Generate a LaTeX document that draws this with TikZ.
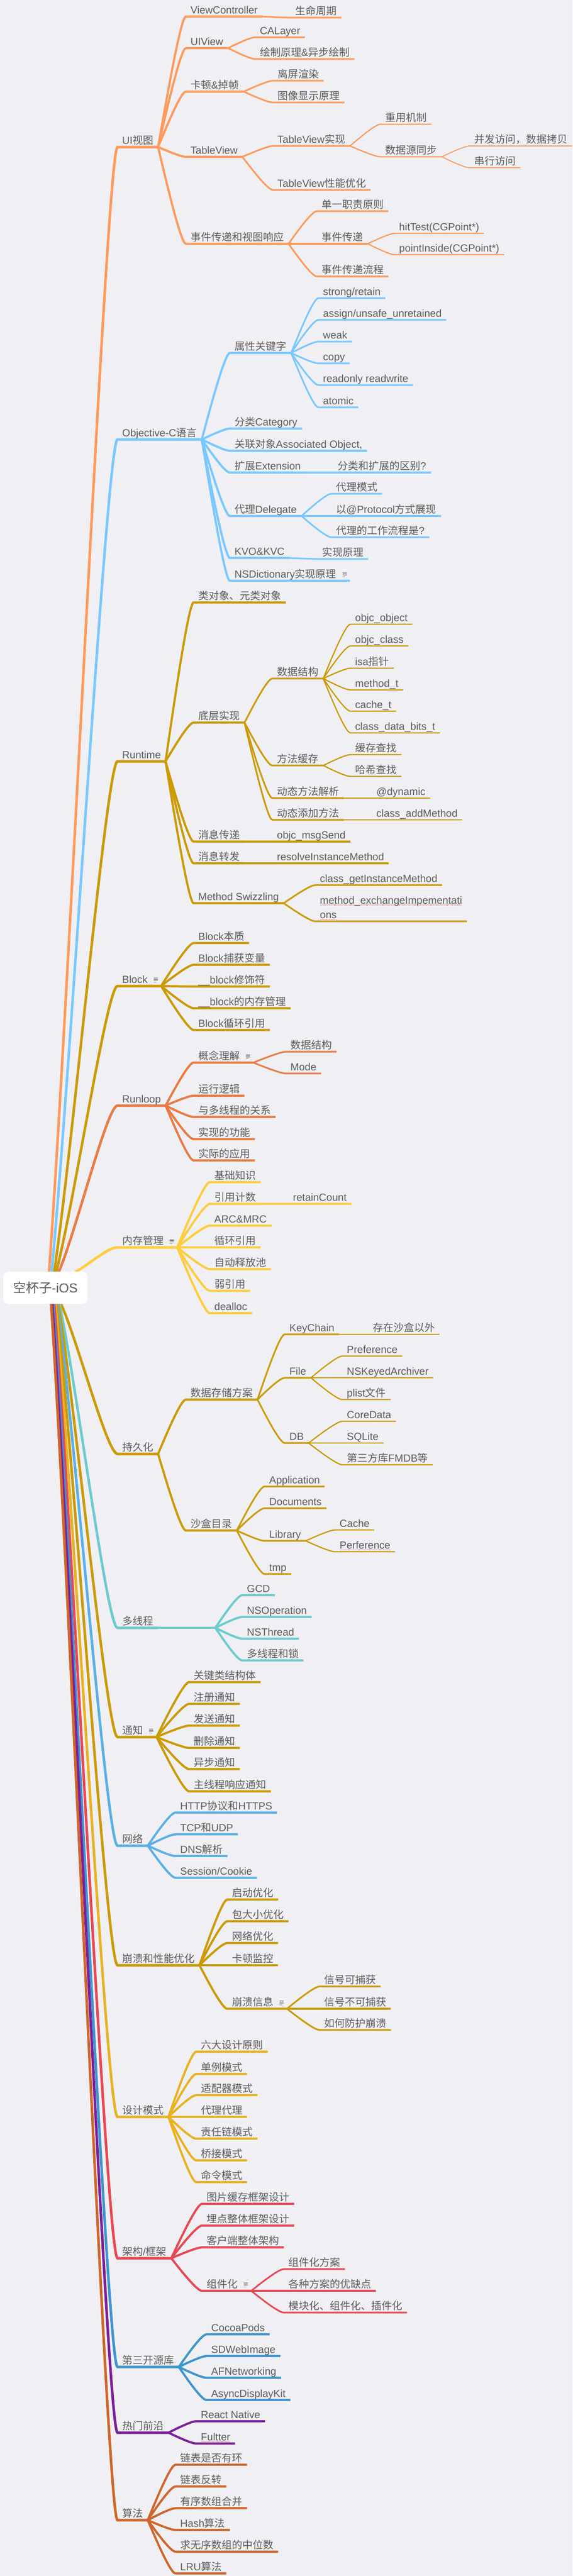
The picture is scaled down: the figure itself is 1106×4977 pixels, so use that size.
\documentclass[tikz,border=0pt]{standalone}
\usepackage{fontspec}
\setmainfont{Liberation Sans}
\newfontfamily\latf{Liberation Sans}
\newfontfamily\cjkf{Noto Sans CJK SC}
\usetikzlibrary{calc}
\XeTeXinterchartokenstate=1
\newXeTeXintercharclass\mycjk
\newcount\cnum
\cnum=33 \loop \XeTeXcharclass\cnum=0 \ifnum\cnum<126 \advance\cnum by 1 \repeat
\cnum="3000 \loop \XeTeXcharclass\cnum=\mycjk \ifnum\cnum<"303F \advance\cnum by 1 \repeat
\cnum="4E00 \loop \XeTeXcharclass\cnum=\mycjk \ifnum\cnum<"9FFF \advance\cnum by 1 \repeat
\cnum="FF00 \loop \XeTeXcharclass\cnum=\mycjk \ifnum\cnum<"FFEF \advance\cnum by 1 \repeat
\XeTeXinterchartoks 0 \mycjk = {\cjkf}
\XeTeXinterchartoks 4095 \mycjk = {\cjkf}
\XeTeXinterchartoks \mycjk 0 = {\latf}
\XeTeXinterchartoks \mycjk 4095 = {\latf}

\definecolor{bgc}{RGB}{240,240,244}
\definecolor{txt}{RGB}{92,92,92}
\definecolor{notec}{RGB}{140,140,140}
\definecolor{sqc}{RGB}{230,80,80}
\definecolor{cUI}{RGB}{255,154,92}
\definecolor{cOC}{RGB}{122,200,255}
\definecolor{cGD}{RGB}{204,154,6}
\definecolor{cRL}{RGB}{233,124,69}
\definecolor{cMM}{RGB}{255,204,61}
\definecolor{cMT}{RGB}{108,203,207}
\definecolor{cNW}{RGB}{91,176,230}
\definecolor{cDP}{RGB}{233,178,35}
\definecolor{cAR}{RGB}{232,72,85}
\definecolor{cLB}{RGB}{63,149,207}
\definecolor{cHT}{RGB}{125,31,154}
\definecolor{cAL}{RGB}{208,102,43}

\newcommand{\noteicon}{\hspace{12pt}\textcolor{notec}{\rlap{\raisebox{10pt}{\rule{8pt}{1.3pt}}}\rlap{\raisebox{7.3pt}{\rule{8pt}{1.3pt}}}\rlap{\raisebox{4.6pt}{\rule{8pt}{1.3pt}}}\raisebox{1.9pt}{\rule{5pt}{1.3pt}}}\hspace{10pt}}
\newcommand{\sq}[1]{\setbox0=\hbox{#1}\rlap{\copy0}\raisebox{-2.5pt}{\textcolor{sqc}{\hbox to \wd0{\xleaders\hbox to 2.2pt{\hss\rule{1.3pt}{1.3pt}\hss}\hfill}}}}
\newcommand{\conn}[3]{\draw[#1] let \p1=(#2), \p2=(#3.south west), \p3=(#3.south east) in (\p1) .. controls ({\x1+0.25*(\x2-\x1)},{\y1+0.3*(\y2-\y1)}) and ({\x2-10pt},\y2) .. (\p2) -- (\p3);}
\newcommand{\rconn}[3]{\draw[#1] let \p1=(#2), \p2=(#3.south west), \p3=(#3.south east) in (\p1) .. controls ({\x1+0.3*(\x2-\x1)},{\y1+0.25*(\y2-\y1)}) and ({\x2-20pt},\y2) .. (\p2) -- (\p3);}

\pgfdeclarelayer{bg}
\pgfsetlayers{bg,main}

\tikzset{
  topic/.style={anchor=south west, inner xsep=9pt, inner ysep=5pt, text depth=0pt, text height=15pt, text=txt, font=\fontsize{20}{24}\selectfont},
  L1/.style={line width=5pt},
  L2/.style={line width=4.2pt},
  L3/.style={line width=3.2pt},
  L4/.style={line width=2.4pt},
  L5/.style={line width=1.8pt},
  rootbox/.style={fill=white, rounded corners=10pt, minimum width=163pt, minimum height=62pt, inner sep=0pt, text=txt, font=\fontsize{25}{30}\selectfont}
}

\begin{document}
\begin{tikzpicture}[x=1pt, y=-1pt, line cap=round, line join=round]
\useasboundingbox (0,0) rectangle (1106,4977);

\node[rootbox] (root) at (87.5,2488) {空杯子-iOS};

% ---------- level 1
\node[topic] (ui) at (227,284) {UI视图};
\node[topic] (oc) at (227,849) {Objective-C语言};
\node[topic] (rt) at (227,1471) {Runtime};
\node[topic] (blk) at (227,1905) {Block\noteicon};
\node[topic] (rl) at (227,2136) {Runloop};
\node[topic] (mm) at (227,2410) {内存管理\noteicon};
\node[topic] (pers) at (227,2809) {持久化};
\node[topic] (mt) at (227,3145) {多线程};
\node[topic] (nt) at (227,3356) {通知\noteicon};
\node[topic] (net) at (227,3566) {网络};
\node[topic] (crash) at (227,3797) {崩溃和性能优化};
\node[topic] (dp) at (227,4090) {设计模式};
\node[topic] (arch) at (227,4363) {架构/框架};
\node[topic] (lib) at (227,4573) {第三开源库};
\node[topic] (hot) at (227,4700) {热门前沿};
\node[topic] (algo) at (227,4869) {算法};

% ---------- UI
\node[topic] (vc) at (359,32) {ViewController};
\node[topic] (smzq) at (561,34) {生命周期};
\node[topic] (uiv) at (359,93) {UIView};
\node[topic] (calayer) at (493,72) {CALayer};
\node[topic] (hzyl) at (493,114) {绘制原理\&异步绘制};
\node[topic] (kd) at (359,177) {卡顿\&掉帧};
\node[topic] (lpxr) at (527,156) {离屏渲染};
\node[topic] (txxs) at (527,198) {图像显示原理};
\node[topic] (tv) at (359,303) {TableView};
\node[topic] (tvsx) at (527,282) {TableView实现};
\node[topic] (cyjz) at (735,240) {重用机制};
\node[topic] (sjy) at (735,303) {数据源同步};
\node[topic] (bf) at (907,282) {并发访问，数据拷贝};
\node[topic] (cxfw) at (907,324) {串行访问};
\node[topic] (tvyh) at (527,367) {TableView性能优化};
\node[topic] (ev) at (359,471) {事件传递和视图响应};
\node[topic] (dyzz) at (612,408) {单一职责原则};
\node[topic] (sjcd) at (612,471) {事件传递};
\node[topic] (hit) at (762,451) {hitTest(CGPoint*)};
\node[topic] (pin) at (762,492) {pointInside(CGPoint*)};
\node[topic] (sjlc) at (612,534) {事件传递流程};

% ---------- OC
\node[topic] (sxgjz) at (444,682) {属性关键字};
\node[topic] (strong) at (615,576) {strong/retain};
\node[topic] (assign) at (615,618) {assign/unsafe\_unretained};
\node[topic] (weak) at (615,660) {weak};
\node[topic] (copy) at (615,702) {copy};
\node[topic] (rdonly) at (615,744) {readonly readwrite};
\node[topic] (atomic) at (615,787) {atomic};
\node[topic] (fl) at (444,828) {分类Category};
\node[topic] (gl) at (444,871) {关联对象Associated Object,};
\node[topic] (kz) at (444,913) {扩展Extension};
\node[topic] (qb) at (643,913) {分类和扩展的区别?};
\node[topic] (dl) at (444,997) {代理Delegate};
\node[topic] (dlms) at (640,954) {代理模式};
\node[topic] (prot) at (640,997) {以@Protocol方式展现};
\node[topic] (dllc) at (640,1038) {代理的工作流程是?};
\node[topic] (kvo) at (444,1078) {KVO\&KVC};
\node[topic] (sxyl) at (613,1080) {实现原理};
\node[topic] (nsd) at (444,1122) {NSDictionary实现原理\noteicon};

% ---------- Runtime
\node[topic] (ldx) at (374,1164) {类对象、元类对象};
\node[topic] (dcsx) at (374,1396) {底层实现};
\node[topic] (sjjg) at (526,1311) {数据结构};
\node[topic] (objo) at (677,1206) {objc\_object};
\node[topic] (objc) at (677,1248) {objc\_class};
\node[topic] (isa) at (677,1291) {isa指针};
\node[topic] (mtht) at (677,1333) {method\_t};
\node[topic] (cache) at (677,1374) {cache\_t};
\node[topic] (cdb) at (677,1416) {class\_data\_bits\_t};
\node[topic] (ffhc) at (526,1479) {方法缓存};
\node[topic] (hccz) at (677,1458) {缓存查找};
\node[topic] (hxcz) at (677,1500) {哈希查找};
\node[topic] (dtjx) at (526,1542) {动态方法解析};
\node[topic] (dyn) at (718,1542) {@dynamic};
\node[topic] (dttj) at (526,1584) {动态添加方法};
\node[topic] (cam) at (718,1584) {class\_addMethod};
\node[topic] (xxcd) at (374,1626) {消息传递};
\node[topic] (msgs) at (526,1626) {objc\_msgSend};
\node[topic] (xxzf) at (374,1668) {消息转发};
\node[topic] (rim) at (526,1668) {resolveInstanceMethod};
\node[topic] (ms) at (374,1745) {Method Swizzling};
\node[topic] (gim) at (609,1710) {class\_getInstanceMethod};
\node[topic] (mei) at (609,1780) {\vbox{\baselineskip=28pt\hbox{\sq{method\_exchangeImpementati}}\hbox{\sq{ons}}}};

% ---------- Block
\node[topic] (bz) at (374,1822) {Block本质};
\node[topic] (bh) at (374,1864) {Block捕获变量};
\node[topic] (bxs) at (374,1906) {\_\_block修饰符};
\node[topic] (bnc) at (374,1948) {\_\_block的内存管理};
\node[topic] (bxh) at (374,1990) {Block循环引用};

% ---------- Runloop
\node[topic] (gnlj) at (374,2053) {概念理解\noteicon};
\node[topic] (rlsj) at (552,2032) {数据结构};
\node[topic] (mode) at (552,2074) {Mode};
\node[topic] (yxlj) at (374,2117) {运行逻辑};
\node[topic] (dxc) at (374,2158) {与多线程的关系};
\node[topic] (sxgn) at (374,2201) {实现的功能};
\node[topic] (sjyy) at (374,2242) {实际的应用};

% ---------- memory
\node[topic] (jczs) at (405,2284) {基础知识};
\node[topic] (yyjs) at (405,2326) {引用计数};
\node[topic] (rc) at (557,2326) {retainCount};
\node[topic] (arc) at (405,2368) {ARC\&MRC};
\node[topic] (xhyy) at (405,2410) {循环引用};
\node[topic] (zdsf) at (405,2452) {自动释放池};
\node[topic] (ryy) at (405,2494) {弱引用};
\node[topic] (dealloc) at (405,2537) {dealloc};

% ---------- persistence
\node[topic] (sjcc) at (359,2704) {数据存储方案};
\node[topic] (kc) at (550,2578) {KeyChain};
\node[topic] (czsh) at (711,2578) {存在沙盒以外};
\node[topic] (file) at (550,2662) {File};
\node[topic] (pref) at (661,2620) {Preference};
\node[topic] (nska) at (661,2662) {NSKeyedArchiver};
\node[topic] (plist) at (661,2704) {plist文件};
\node[topic] (db) at (550,2788) {DB};
\node[topic] (cd) at (661,2746) {CoreData};
\node[topic] (sql) at (661,2788) {SQLite};
\node[topic] (fmdb) at (661,2830) {第三方库FMDB等};
\node[topic] (shml) at (359,2957) {沙盒目录};
\node[topic] (app) at (511,2872) {Application};
\node[topic] (docs) at (511,2914) {Documents};
\node[topic] (libr) at (511,2977) {Library};
\node[topic] (cachetwo) at (647,2956) {Cache};
\node[topic] (perf) at (647,2998) {\sq{Perference}};
\node[topic] (tmp) at (511,3041) {tmp};

% ---------- threads
\coordinate (mtb) at (416,3145);
\node[topic] (gcd) at (468,3082) {GCD};
\node[topic] (nsop) at (468,3124) {NSOperation};
\node[topic] (nsth) at (468,3166) {NSThread};
\node[topic] (dxcs) at (468,3208) {多线程和锁};

% ---------- notification
\node[topic] (gjl) at (365,3250) {关键类结构体};
\node[topic] (zc) at (365,3292) {注册通知};
\node[topic] (fs) at (365,3334) {发送通知};
\node[topic] (sc) at (365,3377) {删除通知};
\node[topic] (yb) at (365,3418) {异步通知};
\node[topic] (zxc) at (365,3461) {主线程响应通知};

% ---------- network
\node[topic] (http) at (339,3502) {HTTP协议和HTTPS};
\node[topic] (tcp) at (339,3544) {TCP和UDP};
\node[topic] (dns) at (339,3586) {DNS解析};
\node[topic] (sess) at (339,3628) {Session/Cookie};

% ---------- crash
\node[topic] (qd) at (439,3670) {启动优化};
\node[topic] (bdx) at (439,3712) {包大小优化};
\node[topic] (wlyh) at (439,3754) {网络优化};
\node[topic] (kdjk) at (439,3797) {卡顿监控};
\node[topic] (bkxx) at (439,3881) {崩溃信息\noteicon};
\node[topic] (xha) at (617,3838) {信号可捕获};
\node[topic] (xhb) at (617,3881) {信号不可捕获};
\node[topic] (fh) at (617,3922) {如何防护崩溃};

% ---------- design patterns
\node[topic] (ld) at (379,3964) {六大设计原则};
\node[topic] (dlm) at (379,4007) {单例模式};
\node[topic] (spq) at (379,4048) {适配器模式};
\node[topic] (dldl) at (379,4090) {代理代理};
\node[topic] (zrl) at (379,4132) {责任链模式};
\node[topic] (qj) at (379,4174) {桥接模式};
\node[topic] (ml) at (379,4216) {命令模式};

% ---------- architecture
\node[topic] (tphc) at (390,4258) {图片缓存框架设计};
\node[topic] (md) at (390,4300) {埋点整体框架设计};
\node[topic] (khd) at (390,4342) {客户端整体架构};
\node[topic] (zjh) at (390,4426) {组件化\noteicon};
\node[topic] (zjfa) at (548,4384) {组件化方案};
\node[topic] (gzfa) at (548,4426) {各种方案的优缺点};
\node[topic] (mkh) at (548,4468) {模块化、组件化、插件化};

% ---------- libs
\node[topic] (pods) at (399,4510) {CocoaPods};
\node[topic] (sdw) at (399,4552) {SDWebImage};
\node[topic] (afn) at (399,4594) {AFNetworking};
\node[topic] (adk) at (399,4637) {AsyncDisplayKit};

% ---------- hot
\node[topic] (rn) at (379,4678) {React Native};
\node[topic] (flt) at (379,4721) {\sq{Fultter}};

% ---------- algorithms
\node[topic] (lba) at (339,4762) {链表是否有环};
\node[topic] (lbb) at (339,4804) {链表反转};
\node[topic] (yx) at (339,4846) {有序数组合并};
\node[topic] (hash) at (339,4888) {Hash算法};
\node[topic] (zws) at (339,4930) {求无序数组的中位数};
\node[topic] (lru) at (339,4972) {LRU算法};

\begin{pgfonlayer}{bg}
\fill[bgc] (0,0) rectangle (1106,4977);

% root connectors
\rconn{L1,cUI}{$(root.north west)+(89,0)$}{ui}
\rconn{L1,cOC}{$(root.north west)+(94,0)$}{oc}
\rconn{L1,cGD}{$(root.north west)+(99,0)$}{rt}
\rconn{L1,cGD}{$(root.north west)+(103,0)$}{blk}
\rconn{L1,cRL}{$(root.north west)+(108,0)$}{rl}
\rconn{L1,cMM}{$(root.north west)+(140,0)$}{mm}
\rconn{L1,cGD}{$(root.south west)+(112,0)$}{pers}
\rconn{L1,cMT}{$(root.south west)+(109,0)$}{mt}
\rconn{L1,cGD}{$(root.south west)+(107,0)$}{nt}
\rconn{L1,cNW}{$(root.south west)+(105,0)$}{net}
\rconn{L1,cGD}{$(root.south west)+(103,0)$}{crash}
\rconn{L1,cDP}{$(root.south west)+(101,0)$}{dp}
\rconn{L1,cAR}{$(root.south west)+(99,0)$}{arch}
\rconn{L1,cLB}{$(root.south west)+(97,0)$}{lib}
\rconn{L1,cHT}{$(root.south west)+(95,0)$}{hot}
\rconn{L1,cAL}{$(root.south west)+(93,0)$}{algo}

% UI
\conn{L2,cUI}{ui.south east}{vc}
\conn{L2,cUI}{ui.south east}{uiv}
\conn{L2,cUI}{ui.south east}{kd}
\conn{L2,cUI}{ui.south east}{tv}
\conn{L2,cUI}{ui.south east}{ev}
\conn{L3,cUI}{vc.south east}{smzq}
\conn{L3,cUI}{uiv.south east}{calayer}
\conn{L3,cUI}{uiv.south east}{hzyl}
\conn{L3,cUI}{kd.south east}{lpxr}
\conn{L3,cUI}{kd.south east}{txxs}
\conn{L3,cUI}{tv.south east}{tvsx}
\conn{L3,cUI}{tv.south east}{tvyh}
\conn{L4,cUI}{tvsx.south east}{cyjz}
\conn{L4,cUI}{tvsx.south east}{sjy}
\conn{L5,cUI}{sjy.south east}{bf}
\conn{L5,cUI}{sjy.south east}{cxfw}
\conn{L3,cUI}{ev.south east}{dyzz}
\conn{L3,cUI}{ev.south east}{sjcd}
\conn{L3,cUI}{ev.south east}{sjlc}
\conn{L4,cUI}{sjcd.south east}{hit}
\conn{L4,cUI}{sjcd.south east}{pin}

% OC
\conn{L2,cOC}{oc.south east}{sxgjz}
\conn{L2,cOC}{oc.south east}{fl}
\conn{L2,cOC}{oc.south east}{gl}
\conn{L2,cOC}{oc.south east}{kz}
\conn{L2,cOC}{oc.south east}{dl}
\conn{L2,cOC}{oc.south east}{kvo}
\conn{L2,cOC}{oc.south east}{nsd}
\conn{L3,cOC}{sxgjz.south east}{strong}
\conn{L3,cOC}{sxgjz.south east}{assign}
\conn{L3,cOC}{sxgjz.south east}{weak}
\conn{L3,cOC}{sxgjz.south east}{copy}
\conn{L3,cOC}{sxgjz.south east}{rdonly}
\conn{L3,cOC}{sxgjz.south east}{atomic}
\conn{L3,cOC}{kz.south east}{qb}
\conn{L3,cOC}{dl.south east}{dlms}
\conn{L3,cOC}{dl.south east}{prot}
\conn{L3,cOC}{dl.south east}{dllc}
\conn{L3,cOC}{kvo.south east}{sxyl}

% Runtime
\conn{L2,cGD}{rt.south east}{ldx}
\conn{L2,cGD}{rt.south east}{dcsx}
\conn{L2,cGD}{rt.south east}{xxcd}
\conn{L2,cGD}{rt.south east}{xxzf}
\conn{L2,cGD}{rt.south east}{ms}
\conn{L3,cGD}{dcsx.south east}{sjjg}
\conn{L3,cGD}{dcsx.south east}{ffhc}
\conn{L3,cGD}{dcsx.south east}{dtjx}
\conn{L3,cGD}{dcsx.south east}{dttj}
\conn{L4,cGD}{sjjg.south east}{objo}
\conn{L4,cGD}{sjjg.south east}{objc}
\conn{L4,cGD}{sjjg.south east}{isa}
\conn{L4,cGD}{sjjg.south east}{mtht}
\conn{L4,cGD}{sjjg.south east}{cache}
\conn{L4,cGD}{sjjg.south east}{cdb}
\conn{L4,cGD}{ffhc.south east}{hccz}
\conn{L4,cGD}{ffhc.south east}{hxcz}
\conn{L4,cGD}{dtjx.south east}{dyn}
\conn{L4,cGD}{dttj.south east}{cam}
\conn{L3,cGD}{xxcd.south east}{msgs}
\conn{L3,cGD}{xxzf.south east}{rim}
\conn{L3,cGD}{ms.south east}{gim}
\conn{L3,cGD}{ms.south east}{mei}

% Block
\conn{L2,cGD}{blk.south east}{bz}
\conn{L2,cGD}{blk.south east}{bh}
\conn{L2,cGD}{blk.south east}{bxs}
\conn{L2,cGD}{blk.south east}{bnc}
\conn{L2,cGD}{blk.south east}{bxh}

% Runloop
\conn{L2,cRL}{rl.south east}{gnlj}
\conn{L2,cRL}{rl.south east}{yxlj}
\conn{L2,cRL}{rl.south east}{dxc}
\conn{L2,cRL}{rl.south east}{sxgn}
\conn{L2,cRL}{rl.south east}{sjyy}
\conn{L3,cRL}{gnlj.south east}{rlsj}
\conn{L3,cRL}{gnlj.south east}{mode}

% memory
\conn{L2,cMM}{mm.south east}{jczs}
\conn{L2,cMM}{mm.south east}{yyjs}
\conn{L2,cMM}{mm.south east}{arc}
\conn{L2,cMM}{mm.south east}{xhyy}
\conn{L2,cMM}{mm.south east}{zdsf}
\conn{L2,cMM}{mm.south east}{ryy}
\conn{L2,cMM}{mm.south east}{dealloc}
\conn{L3,cMM}{yyjs.south east}{rc}

% persistence
\conn{L2,cGD}{pers.south east}{sjcc}
\conn{L2,cGD}{pers.south east}{shml}
\conn{L3,cGD}{sjcc.south east}{kc}
\conn{L3,cGD}{sjcc.south east}{file}
\conn{L3,cGD}{sjcc.south east}{db}
\conn{L4,cGD}{kc.south east}{czsh}
\conn{L4,cGD}{file.south east}{pref}
\conn{L4,cGD}{file.south east}{nska}
\conn{L4,cGD}{file.south east}{plist}
\conn{L4,cGD}{db.south east}{cd}
\conn{L4,cGD}{db.south east}{sql}
\conn{L4,cGD}{db.south east}{fmdb}
\conn{L3,cGD}{shml.south east}{app}
\conn{L3,cGD}{shml.south east}{docs}
\conn{L3,cGD}{shml.south east}{libr}
\conn{L3,cGD}{shml.south east}{tmp}
\conn{L4,cGD}{libr.south east}{cachetwo}
\conn{L4,cGD}{libr.south east}{perf}

% threads
\draw[L2,cMT] (mt.south east) -- (mtb);
\conn{L2,cMT}{mtb}{gcd}
\conn{L2,cMT}{mtb}{nsop}
\conn{L2,cMT}{mtb}{nsth}
\conn{L2,cMT}{mtb}{dxcs}

% notification
\conn{L2,cGD}{nt.south east}{gjl}
\conn{L2,cGD}{nt.south east}{zc}
\conn{L2,cGD}{nt.south east}{fs}
\conn{L2,cGD}{nt.south east}{sc}
\conn{L2,cGD}{nt.south east}{yb}
\conn{L2,cGD}{nt.south east}{zxc}

% network
\conn{L2,cNW}{net.south east}{http}
\conn{L2,cNW}{net.south east}{tcp}
\conn{L2,cNW}{net.south east}{dns}
\conn{L2,cNW}{net.south east}{sess}

% crash
\conn{L2,cGD}{crash.south east}{qd}
\conn{L2,cGD}{crash.south east}{bdx}
\conn{L2,cGD}{crash.south east}{wlyh}
\conn{L2,cGD}{crash.south east}{kdjk}
\conn{L2,cGD}{crash.south east}{bkxx}
\conn{L3,cGD}{bkxx.south east}{xha}
\conn{L3,cGD}{bkxx.south east}{xhb}
\conn{L3,cGD}{bkxx.south east}{fh}

% design patterns
\conn{L2,cDP}{dp.south east}{ld}
\conn{L2,cDP}{dp.south east}{dlm}
\conn{L2,cDP}{dp.south east}{spq}
\conn{L2,cDP}{dp.south east}{dldl}
\conn{L2,cDP}{dp.south east}{zrl}
\conn{L2,cDP}{dp.south east}{qj}
\conn{L2,cDP}{dp.south east}{ml}

% architecture
\conn{L2,cAR}{arch.south east}{tphc}
\conn{L2,cAR}{arch.south east}{md}
\conn{L2,cAR}{arch.south east}{khd}
\conn{L2,cAR}{arch.south east}{zjh}
\conn{L3,cAR}{zjh.south east}{zjfa}
\conn{L3,cAR}{zjh.south east}{gzfa}
\conn{L3,cAR}{zjh.south east}{mkh}

% libs
\conn{L2,cLB}{lib.south east}{pods}
\conn{L2,cLB}{lib.south east}{sdw}
\conn{L2,cLB}{lib.south east}{afn}
\conn{L2,cLB}{lib.south east}{adk}

% hot
\conn{L2,cHT}{hot.south east}{rn}
\conn{L2,cHT}{hot.south east}{flt}

% algorithms
\conn{L2,cAL}{algo.south east}{lba}
\conn{L2,cAL}{algo.south east}{lbb}
\conn{L2,cAL}{algo.south east}{yx}
\conn{L2,cAL}{algo.south east}{hash}
\conn{L2,cAL}{algo.south east}{zws}
\conn{L2,cAL}{algo.south east}{lru}
\end{pgfonlayer}
\end{tikzpicture}
\end{document}
